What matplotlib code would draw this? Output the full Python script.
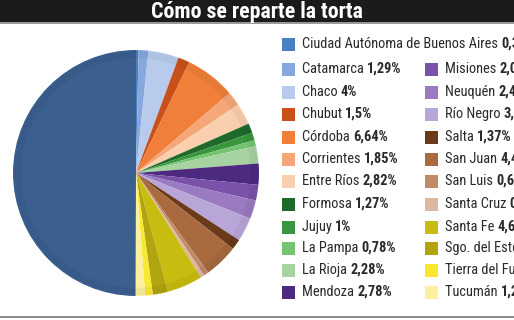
import matplotlib
matplotlib.use("Agg")
import matplotlib.pyplot as plt
from matplotlib import font_manager
from matplotlib.patches import Rectangle

# pick a condensed face if one is installed
nombres = {f.name for f in font_manager.fontManager.ttflist}
familia = ['Liberation Sans', 'DejaVu Sans']
for cand in ['Liberation Sans Narrow', 'Roboto Condensed', 'Open Sans Condensed',
             'Noto Sans Condensed']:
    if cand in nombres:
        familia = [cand] + familia
        break
plt.rcParams['font.family'] = familia

title = "Cómo se reparte la torta"

# provincias en orden del grafico (sentido horario desde las 12)
provincias = ["Ciudad Autónoma de Buenos Aires", "Catamarca", "Chaco", "Chubut",
              "Córdoba", "Corrientes", "Entre Ríos", "Formosa", "Jujuy",
              "La Pampa", "La Rioja", "Mendoza", "Misiones", "Neuquén",
              "Río Negro", "Salta", "San Juan", "San Luis", "Santa Cruz",
              "Santa Fe", "Sgo. del Estero", "Tierra del Fuego", "Tucumán",
              "Buenos Aires"]
porcentajes = [0.33, 1.29, 4.0, 1.5, 6.64, 1.85, 2.82, 1.27, 1.0, 0.78, 2.28,
               2.78, 2.05, 2.45, 3.15, 1.37, 4.45, 0.65, 0.5, 4.65, 2.0, 1.0,
               1.25, 49.94]
etiquetas = ["0,33%", "1,29%", "4%", "1,5%", "6,64%", "1,85%", "2,82%",
             "1,27%", "1%", "0,78%", "2,28%", "2,78%", "2,05%", "2,45%",
             "3,15%", "1,37%", "4,45%", "0,65%", "0,5%", "4,65%", "2%", "1%",
             "1,25%", ""]
colores = ["#4a7fc4", "#86a8dc", "#b9cbec", "#c8501a", "#f07f3a", "#f5a77a",
           "#f9cfae", "#1f6a2b", "#3a963e", "#74c472", "#a6d3a0", "#4b2a80",
           "#7a52aa", "#9a7ac0", "#b8a6d8", "#6a3a1a", "#a86a3e", "#c08a68",
           "#dcb8a0", "#c8bc10", "#b0a410", "#f8e830", "#faf0a0", "#3b5f8f"]

fig = plt.figure(figsize=(5.14, 3.2), dpi=100)
W, H = 514, 320
renderer = fig.canvas.get_renderer()


def ajustar(texto, ancho, base, **kw):
    # font size so that texto is about ancho pixels wide
    t = fig.text(0, 0, texto, fontsize=base, **kw)
    w = t.get_window_extent(renderer).width
    t.remove()
    return base * ancho / w


# header and frame in pixel coords
bg = fig.add_axes([0, 0, 1, 1])
bg.set_xlim(0, W)
bg.set_ylim(H, 0)
bg.axis('off')
bg.add_patch(Rectangle((0, 0), W, 22, color="#1c1a1a", lw=0))
bg.add_patch(Rectangle((0, 22), W, 2, color="#9a9a9a", lw=0))
bg.add_patch(Rectangle((0, 316), W, 2, color="#8c8c8c", lw=0))
fs_t = ajustar(title, 213, 14, fontweight="bold")
bg.text(257, 12, title, color="white", fontsize=fs_t, fontweight="bold",
        ha="center", va="center")

# pie
cx, cy, r = 136, 173, 123
ax = fig.add_axes([(cx - r) / W, (H - cy - r) / H, 2 * r / W, 2 * r / H])
ax.pie(porcentajes, colors=colores, startangle=90, counterclock=False,
       wedgeprops=dict(lw=0))
ax.set_xlim(-1, 1)
ax.set_ylim(-1, 1)
ax.axis('off')
# soft darkening toward the rim
for k in range(4):
    ax.add_patch(plt.Circle((0, 0), 0.985 - k * 0.015, fill=False,
                            ec="black", lw=1.5, alpha=0.04))

# legend
leg = fig.add_axes([0, 0, 1, 1])
leg.set_xlim(0, W)
leg.set_ylim(H, 0)
leg.axis('off')
leg.patch.set_alpha(0)

filas = [44, 69, 92, 114, 137, 159, 181, 204, 227, 248, 270, 292]
fs = min(ajustar("Catamarca ", 65, 10), 11)
for i in range(len(provincias) - 1):
    if i <= 11:
        x0, y = 282, filas[i]
    else:
        x0, y = 425, filas[i - 11]
    leg.add_patch(Rectangle((x0, y - 6.5), 13, 13, color=colores[i], lw=0))
    t = leg.text(x0 + 20, y, provincias[i] + " ", fontsize=fs, color="#2a2a2a",
                 ha="left", va="center")
    leg.annotate(etiquetas[i], xy=(1, 0), xycoords=t, fontsize=fs,
                 fontweight="bold", color="#2a2a2a", ha="left", va="bottom",
                 annotation_clip=False)

fig.savefig("out.png", dpi=100)
